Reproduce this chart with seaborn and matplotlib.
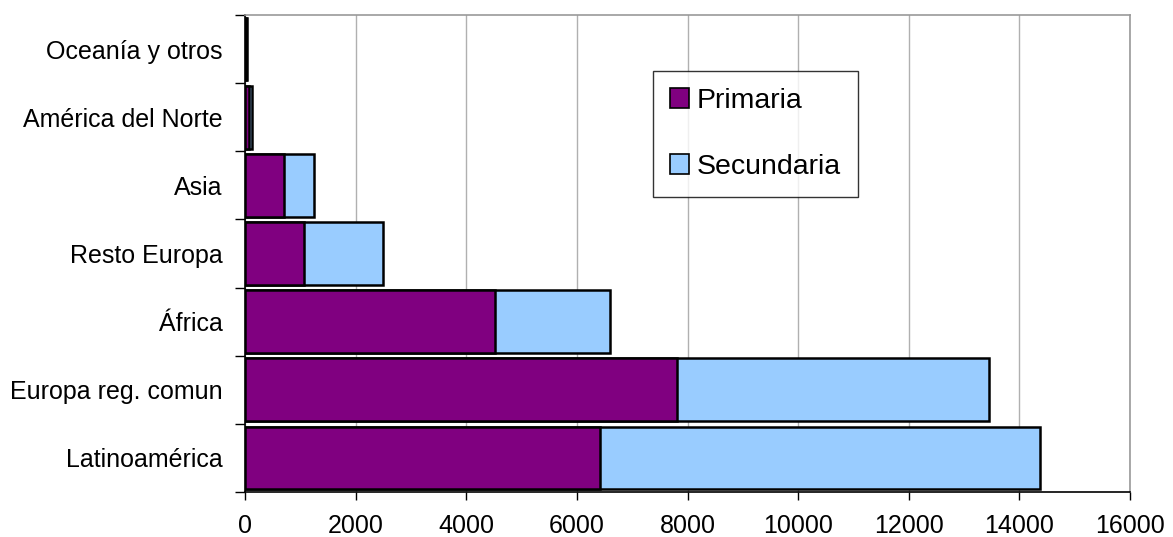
import pandas as pd
import numpy as np
import matplotlib.pyplot as plt
import seaborn as sns
from matplotlib.patches import Patch

# regiones, de arriba a abajo
regiones = ["Oceanía y otros", "América del Norte", "Asia", "Resto Europa",
            "África", "Europa reg. comun", "Latinoamérica"]
primaria = [20, 72, 700, 1070, 4520, 7810, 6420]
secundaria = [10, 60, 550, 1430, 2080, 5640, 7960]

df = pd.DataFrame({"region": regiones, "primaria": primaria, "secundaria": secundaria})
df["total"] = df["primaria"] + df["secundaria"]

sns.set_style("white")
plt.rcParams['font.family'] = ['Liberation Sans', 'DejaVu Sans']

fig = plt.figure(figsize=(11.73, 5.37), dpi=100)
ax = fig.add_axes([245/1173, 1-492/537, 885/1173, 477/537])

# total (secundaria encima) y luego primaria
sns.barplot(data=df, y="region", x="total", order=regiones, orient="h", color="#99CCFF",
            width=0.92, edgecolor="black", linewidth=1.8, saturation=1, ax=ax)
sns.barplot(data=df, y="region", x="primaria", order=regiones, orient="h", color="#800080",
            width=0.92, edgecolor="black", linewidth=1.8, saturation=1, ax=ax)

ax.set_xlim(0, 16000)
ax.set_ylim(len(regiones) - 0.5, -0.5)
ax.set_xticks(np.arange(0, 16001, 2000))
ax.set_xlabel("")
ax.set_ylabel("")

# etiquetas centradas, marcas en los limites
ax.set_yticks(np.arange(len(regiones)), labels=regiones, minor=True)
ax.set_yticks(np.arange(len(regiones) + 1) - 0.5, labels=[])
ax.tick_params(axis="y", which="minor", length=0, pad=16, labelsize=18, labelcolor="black")
ax.tick_params(axis="y", which="major", length=7, width=1, color="black", direction="out", left=True)
ax.tick_params(axis="x", length=6, width=1, color="black", direction="out", bottom=True,
               labelsize=18, pad=10, labelcolor="black")

ax.xaxis.grid(True, color="#b0b0b0", linewidth=1)
ax.set_axisbelow(True)
for s in ["left", "bottom"]:
    ax.spines[s].set_color("black")
    ax.spines[s].set_linewidth(1.2)
for s in ["top", "right"]:
    ax.spines[s].set_color("#999999")
    ax.spines[s].set_linewidth(1.2)

handles = [Patch(facecolor="#800080", edgecolor="black", linewidth=1.2),
           Patch(facecolor="#99CCFF", edgecolor="black", linewidth=1.2)]
leg = ax.legend(handles, ["Primaria", "Secundaria"], loc="upper left",
                bbox_to_anchor=(0.461, 0.883), fontsize=20.5, frameon=True, fancybox=False,
                edgecolor="black", handlelength=0.68, handleheight=0.68, handletextpad=0.25,
                labelspacing=1.4, borderpad=0.6, borderaxespad=0)
leg.get_frame().set_linewidth(1)
for t in leg.get_texts():
    t.set_color("black")

plt.savefig("out.png", dpi=100)
